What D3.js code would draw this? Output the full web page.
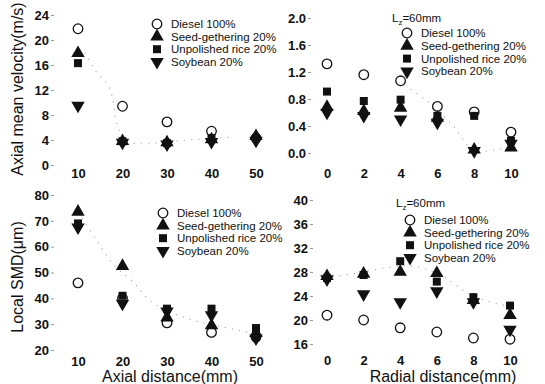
<!DOCTYPE html>
<html>
<head>
<meta charset="utf-8">
<script src="https://cdn.jsdelivr.net/npm/d3@7"></script>
<style>
  body { margin: 0; background: #fff; }
  text { font-family: "Liberation Sans", Arial, sans-serif; fill: #111; }
  .tick text { font-size: 13px; font-weight: bold; }
  .legend text { font-size: 11.5px; }
  .title { font-size: 16px; }
</style>
</head>
<body>
<svg id="chart" width="545" height="384"></svg>
<script>
const seriesNames = ["Diesel 100%", "Seed-gethering 20%", "Unpolished rice 20%", "Soybean 20%"];
const symbols = ["circle", "triangle", "square", "triangleDown"];

// axial distance (mm)
const axialX = [10, 20, 30, 40, 50];
const velAxial = [
  [21.8, 9.4, 6.9, 5.4, 4.3],
  [17.9, 3.8, 3.6, 4.1, 4.6],
  [16.3, 3.8, 3.5, 4.3, 4.3],
  [9.5, 3.6, 3.3, 3.7, 3.9]
];
const smdAxial = [
  [46, 40, 30.5, 26.8, 25],
  [73.5, 52.5, 32.5, 29.5, 26.5],
  [69, 41, 36, 36, 28.5],
  [67.5, 38, 35, 33.5, 24.5]
];

// radial distance (mm), Lz = 60mm
const radialX = [0, 2, 4, 6, 8, 10];
const velRadial = [
  [1.32, 1.16, 1.07, 0.69, 0.61, 0.31],
  [0.68, 0.62, 0.67, 0.52, 0.05, 0.08],
  [0.91, 0.77, 0.79, 0.55, 0.55, 0.18],
  [0.6, 0.55, 0.5, 0.45, 0.03, 0.14]
];
const smdRadial = [
  [20.8, 20.0, 18.7, 18.0, 17.0, 16.8],
  [27.3, 27.7, 28.0, 27.8, 23.3, 20.8],
  [27.0, 27.5, 29.8, 26.4, 23.8, 22.4],
  [26.8, 24.3, 23.0, 24.8, 23.0, 18.4]
];

// faint dotted trend curves visible in the scan
const trendVelAxial = [[11.5, 18], [14, 15], [17, 12.5], [19, 6], [21, 3.8], [25, 3.4], [33, 3.9], [45, 4.5]];
const trendVelRadial = [[4.2, 1.0], [5.3, 0.8], [6.8, 0.42], [8, 0.04], [10, 0.1]];
const trendSmdAxial = [[11, 71], [14, 63], [18, 53], [22, 47], [27, 38], [35, 32], [45, 28], [50, 26]];
const trendSmdRadial = [[0.3, 27.2], [1.2, 27.6], [4.5, 29], [6, 27.8], [8, 24], [10, 22.2]];

const yTicksVelAxial = [0, 4, 8, 12, 16, 20, 24];
const yTicksVelRadial = [0, 0.4, 0.8, 1.2, 1.6, 2.0];
const yTicksSmdAxial = [20, 30, 40, 50, 60, 70, 80];
const yTicksSmdRadial = [16, 20, 24, 28, 32, 36, 40];

const svg = d3.select("#chart");

const symbolMap = {
  circle: d3.symbolCircle,
  triangle: d3.symbolTriangle,
  square: d3.symbolSquare,
  triangleDown: d3.symbolTriangle
};
const symbolSize = { circle: 72, triangle: 78, square: 64, triangleDown: 78 };

function drawSymbol(g, kind, x, y) {
  const p = g.append("path")
    .attr("d", d3.symbol().type(symbolMap[kind]).size(symbolSize[kind])())
    .attr("transform", `translate(${x},${y})` + (kind === "triangleDown" ? " rotate(180)" : ""));
  if (kind === "circle") p.attr("fill", "#fff").attr("stroke", "#111").attr("stroke-width", 1.3);
  else p.attr("fill", "#111");
  return p;
}

function panel(cfg) {
  const x = d3.scaleLinear().domain(cfg.xDomain).range(cfg.xRange);
  const y = d3.scaleLinear().domain(cfg.yDomain).range(cfg.yRange);
  const g = svg.append("g");

  // y axis (scanned: no visible spine, just ticks)
  const ya = g.append("g")
    .attr("transform", `translate(${cfg.yAxisX},0)`)
    .call(d3.axisLeft(y).tickValues(cfg.yTicks).tickSize(3).tickPadding(2)
      .tickFormat(cfg.yFormat));
  ya.select(".domain").remove();
  ya.selectAll(".tick line").attr("stroke", "#999");

  const xa = g.append("g")
    .attr("transform", `translate(0,${cfg.xAxisY})`)
    .call(d3.axisBottom(x).tickValues(cfg.xValues).tickSize(0).tickPadding(3));
  xa.select(".domain").remove();

  // dotted trend
  g.append("path")
    .datum(cfg.trend)
    .attr("fill", "none")
    .attr("stroke", "#aaa")
    .attr("stroke-width", 1.1)
    .attr("stroke-dasharray", "1.2 6")
    .attr("d", d3.line().x(d => x(d[0])).y(d => y(d[1])).curve(d3.curveCatmullRom));

  cfg.values.forEach((vals, si) => {
    vals.forEach((v, i) => drawSymbol(g, symbols[si], x(cfg.xValues[i]), y(v)));
  });

  // legend
  const lg = g.append("g").attr("class", "legend");
  if (cfg.lz) {
    const t = lg.append("text").attr("x", cfg.lz[0]).attr("y", cfg.lz[1]).style("font-size", "11.5px");
    t.append("tspan").text("L");
    t.append("tspan").attr("dy", 3).style("font-size", "8px").text("z");
    t.append("tspan").attr("dy", -3).text("=60mm");
  }
  seriesNames.forEach((name, si) => {
    const yy = cfg.legend[1] + si * cfg.legendStep;
    drawSymbol(lg, symbols[si], cfg.legend[0], yy);
    lg.append("text").attr("x", cfg.legend[0] + 14).attr("y", yy + 4).text(name);
  });

  if (cfg.yTitle) {
    g.append("text").attr("class", "title")
      .attr("transform", `translate(${cfg.yTitle[1]},${cfg.yTitle[2]}) rotate(-90)`)
      .attr("text-anchor", "middle").text(cfg.yTitle[0]);
  }
  if (cfg.xTitle) {
    g.append("text").attr("class", "title")
      .attr("x", cfg.xTitle[1]).attr("y", cfg.xTitle[2])
      .attr("text-anchor", "middle").text(cfg.xTitle[0]);
  }
}

panel({
  xDomain: [10, 50], xRange: [78, 256], yDomain: [0, 24], yRange: [165, 15],
  xValues: axialX, values: velAxial, yTicks: yTicksVelAxial, yFormat: d3.format("d"),
  yAxisX: 54, xAxisY: 166, trend: trendVelAxial,
  legend: [157, 24], legendStep: 12.6,
  yTitle: ["Axial mean velocity(m/s)", 23, 89]
});
panel({
  xDomain: [0, 10], xRange: [327, 511], yDomain: [0, 2], yRange: [153, 18],
  xValues: radialX, values: velRadial, yTicks: yTicksVelRadial, yFormat: d3.format(".1f"),
  yAxisX: 311, xAxisY: 166, trend: trendVelRadial,
  legend: [407, 33], legendStep: 12.8, lz: [392, 22]
});
panel({
  xDomain: [10, 50], xRange: [78, 256], yDomain: [20, 80], yRange: [350, 195],
  xValues: axialX, values: smdAxial, yTicks: yTicksSmdAxial, yFormat: d3.format("d"),
  yAxisX: 54, xAxisY: 354, trend: trendSmdAxial,
  legend: [163, 213], legendStep: 12.6,
  yTitle: ["Local SMD(\u03bcm)", 23, 277],
  xTitle: ["Axial distance(mm)", 170, 382]
});
panel({
  xDomain: [0, 10], xRange: [327, 510], yDomain: [16, 40], yRange: [344, 200],
  xValues: radialX, values: smdRadial, yTicks: yTicksSmdRadial, yFormat: d3.format("d"),
  yAxisX: 313, xAxisY: 353, trend: trendSmdRadial,
  legend: [410, 220], legendStep: 12.6, lz: [396, 207],
  xTitle: ["Radial distance(mm)", 443, 382]
});
</script>
</body>
</html>
